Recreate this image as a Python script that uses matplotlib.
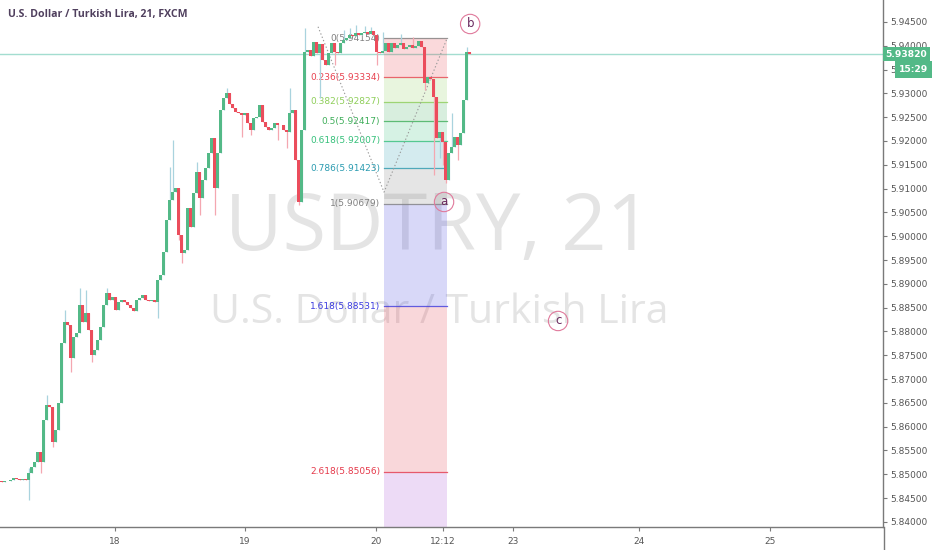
import matplotlib.pyplot as plt
from matplotlib.lines import Line2D
from matplotlib.ticker import MultipleLocator, FormatStrFormatter

# 21-minute USD/TRY candles, closes (open = previous close)
first_open = 5.84857
closes = [
    5.84836, 5.84857, 5.84857, 5.84878, 5.84920, 5.84899, 5.84878, 5.84899, 5.84878, 5.85025,
    5.85151, 5.85256, 5.85467, 5.85256, 5.86139, 5.86454, 5.86412, 5.85677, 5.85929, 5.86496,
    5.87756, 5.88198, 5.88135, 5.87441, 5.87882, 5.87967, 5.88555, 5.88198, 5.88387, 5.88030,
    5.87504, 5.87609, 5.87819, 5.88093, 5.88555, 5.88807, 5.88660, 5.88723, 5.88450, 5.88618,
    5.88660, 5.88618, 5.88555, 5.88492, 5.88429, 5.88660, 5.88702, 5.88765, 5.88660, 5.88639,
    5.88660, 5.88618, 5.89080, 5.89185, 5.89668, 5.90340, 5.90761, 5.90929, 5.91013, 5.90025,
    5.89647, 5.89710, 5.90593, 5.90193, 5.90908, 5.91349, 5.90803, 5.91181, 5.91433, 5.91748,
    5.92063, 5.91013, 5.91748, 5.92651, 5.92903, 5.93008, 5.92777, 5.92693, 5.92609, 5.92588,
    5.92546, 5.92588, 5.92378, 5.92231, 5.92483, 5.92504, 5.92756, 5.92399, 5.92294, 5.92231,
    5.92273, 5.92378, 5.92336, 5.92336, 5.92231, 5.92189, 5.92588, 5.92651, 5.91601, 5.90719,
    5.92231, 5.93870, 5.93912, 5.93786, 5.94080, 5.93849, 5.94038, 5.93702, 5.93597, 5.93849,
    5.94059, 5.93870, 5.93849, 5.94059, 5.94122, 5.94164, 5.94227, 5.94206, 5.94269, 5.94227,
    5.94269, 5.94290, 5.94248, 5.94311, 5.94227, 5.93870, 5.93849, 5.93891, 5.94059, 5.93870,
    5.94059, 5.93954, 5.94017, 5.94059, 5.93933, 5.93975, 5.94017, 5.93954, 5.93996, 5.94101,
    5.93975, 5.93219, 5.93345, 5.93303, 5.92924, 5.92063, 5.92189, 5.91979, 5.91181, 5.91748,
    5.91874, 5.92084, 5.91916, 5.92168, 5.92861, 5.93870, 5.93820,
]
# wicks that stick out of the bodies (candle index -> price)
wick_low = {9: 5.84458, 13: 5.85025, 17: 5.85572, 23: 5.87147, 30: 5.87357, 52: 5.88282,
            59: 5.89920, 60: 5.89437, 66: 5.90445, 71: 5.90445, 80: 5.92084, 83: 5.92126,
            92: 5.92021, 95: 5.91853, 99: 5.90656, 106: 5.92903, 111: 5.93597, 125: 5.93597,
            141: 5.93071, 144: 5.91286, 146: 5.91643, 147: 5.91496, 148: 5.91118, 152: 5.91601}
wick_high = {9: 5.85130, 15: 5.86664, 21: 5.88450, 26: 5.88912, 28: 5.88870, 35: 5.88912,
             56: 5.91454, 57: 5.92021, 65: 5.91559, 75: 5.93113, 96: 5.93113, 101: 5.94374,
             114: 5.94332, 116: 5.94374, 118: 5.94437, 121: 5.94416, 123: 5.94395, 127: 5.94290,
             133: 5.94248, 137: 5.94185, 150: 5.92588, 155: 5.93975}

last_price = 5.93820
tick_pos = [37.8, 81.2, 124.8, 147.2, 170.5, 212.5, 256.2]
tick_labels = ['18', '19', '20', '12:12', '23', '24', '25']

# trend-based fib extension: anchors (candle index, price) and its levels
fib_x = [105.5, 127.5, 148.5]
fib_y = [5.94400, 5.90925, 5.94154]
fib_ratios = ['0', '0.236', '0.382', '0.5', '0.618', '0.786', '1', '1.618', '2.618', '3.618']
fib_prices = [5.94154, 5.93334, 5.92827, 5.92417, 5.92007, 5.91423, 5.90679, 5.88531, 5.85056, 5.81581]
fib_colors = ['#808080', '#e8414f', '#8fce5a', '#3fae5a', '#35c07a', '#2a9bb0',
              '#808080', '#3c3ce0', '#e5394a', '#a64fd6']

wave_labels = ['a', 'b', 'c']
wave_x = [147.5, 156.2, 185.5]
wave_y = [5.90719, 5.94458, 5.88219]

up_col, dn_col = '#53b987', '#eb4d5c'
up_wick, dn_wick = '#a9d3de', '#f4a7b0'

fig = plt.figure(figsize=(9.32, 5.5), dpi=100)
ax = fig.add_axes([0, 23 / 550, 883 / 932, 527 / 550])
ax.set_xlim(-0.5, 293.8)
ax.set_ylim(5.83891, 5.94962)

# watermark
ax.text(0.496, 0.565, 'USDTRY, 21', transform=ax.transAxes, ha='center', va='center',
        fontsize=57, family='Open Sans', color='#e4e4e4', zorder=0)
ax.text(0.498, 0.406, 'U.S. Dollar / Turkish Lira', transform=ax.transAxes, ha='center',
        va='center', fontsize=29.5, family='Open Sans', color='#e4e4e4', zorder=0)

# current price line
ax.axhline(last_price, color='#a3ddd0', lw=1, zorder=1)

# fib zones, level lines and labels
x0, x1 = fib_x[1], fib_x[2]
for k in range(1, len(fib_prices)):
    ax.fill_between([x0, x1], fib_prices[k - 1], fib_prices[k], color=fib_colors[k],
                    alpha=0.2, lw=0, zorder=1)
for k, (r, p) in enumerate(zip(fib_ratios, fib_prices)):
    if p < 5.83891:
        continue
    ax.plot([x0, x1], [p, p], color=fib_colors[k], lw=0.9, alpha=0.8, zorder=1.5)
    ax.text(x0 - 1.3, p, f'{r}({p:.5f})', ha='right', va='center', fontsize=6.5,
            color=fib_colors[k], zorder=1.6)
ax.plot(fib_x, fib_y, color='#9a9a9a', lw=0.8, ls=(0, (1.2, 2)), zorder=1.7)

# candles
opens = [first_open] + closes[:-1]
for i, (o, c) in enumerate(zip(opens, closes)):
    up = c >= o
    lo = min(wick_low.get(i, min(o, c)), o, c)
    hi = max(wick_high.get(i, max(o, c)), o, c)
    if hi > lo:
        ax.vlines(i, lo, hi, color=up_wick if up else dn_wick, lw=0.9, zorder=2)
    h = max(abs(c - o), 0.00006)
    ax.bar(i, h, bottom=min(o, c), width=0.8, color=up_col if up else dn_col,
           lw=0, zorder=3)

# wave labels
for t, x, y in zip(wave_labels, wave_x, wave_y):
    ax.text(x, y, t, ha='center', va='center', fontsize=8.5, color='#6a2a5f', zorder=4,
            bbox=dict(boxstyle='circle,pad=0.27', fc='none', ec='#e07a9c', lw=0.8))

# axes styling
for s in ['top', 'left']:
    ax.spines[s].set_visible(False)
for s in ['bottom', 'right']:
    ax.spines[s].set_color('#7a7a7a')
    ax.spines[s].set_linewidth(1)
fig.add_artist(Line2D([883.5 / 932] * 2, [0, 23 / 550], color='#7a7a7a', lw=1))

ax.yaxis.tick_right()
ax.yaxis.set_major_locator(MultipleLocator(0.005))
ax.yaxis.set_major_formatter(FormatStrFormatter('%.5f'))
ax.tick_params(axis='y', direction='out', length=3, pad=2, labelsize=6.5,
               colors='#7a7a7a', labelcolor='#555555')
ax.set_xticks(tick_pos)
ax.set_xticklabels(tick_labels)
ax.tick_params(axis='x', direction='out', length=3, pad=4, labelsize=6.5,
               colors='#7a7a7a', labelcolor='#555555')

# price and countdown tags on the scale
ax.text(1.003, last_price, '5.93820', transform=ax.get_yaxis_transform(), ha='left',
        va='center', fontsize=6.6, color='white', weight='bold', zorder=5, clip_on=False,
        bbox=dict(boxstyle='square,pad=0.28', fc=up_col, ec='none'))
ax.text(1.018, 5.93502, '15:29', transform=ax.get_yaxis_transform(), ha='left',
        va='center', fontsize=6.6, color='white', weight='bold', zorder=5, clip_on=False,
        bbox=dict(boxstyle='square,pad=0.4', fc=up_col, ec='none'))

fig.text(8 / 932, 1 - 14 / 550, 'U.S. Dollar / Turkish Lira, 21, FXCM', ha='left',
         va='center', fontsize=7.6, family='Open Sans', weight='bold', color='#50405e')

fig.savefig('out.png', dpi=100)
